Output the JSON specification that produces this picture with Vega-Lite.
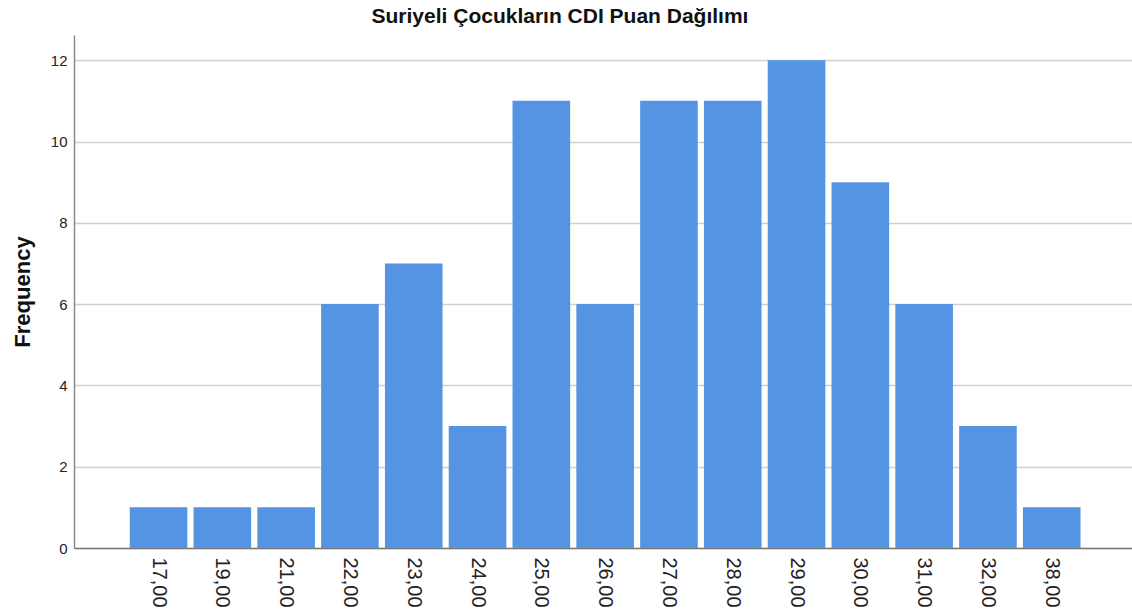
{
  "$schema": "https://vega.github.io/schema/vega-lite/v6.json",
  "autosize": {"type": "none"},
  "width": 1058,
  "height": 513,
  "padding": {"left": 74, "top": 35, "right": 0, "bottom": 68},
  "background": "white",
  "view": {"stroke": null},
  "title": {
    "text": "Suriyeli Çocukların CDI Puan Dağılımı",
    "font": "Liberation Sans",
    "fontSize": 21,
    "fontWeight": "bold",
    "color": "#111111",
    "anchor": "middle",
    "dx": -43,
    "offset": 8
  },
  "data": {
    "values": [
      {"score": "17,00", "freq": 1},
      {"score": "19,00", "freq": 1},
      {"score": "21,00", "freq": 1},
      {"score": "22,00", "freq": 6},
      {"score": "23,00", "freq": 7},
      {"score": "24,00", "freq": 3},
      {"score": "25,00", "freq": 11},
      {"score": "26,00", "freq": 6},
      {"score": "27,00", "freq": 11},
      {"score": "28,00", "freq": 11},
      {"score": "29,00", "freq": 12},
      {"score": "30,00", "freq": 9},
      {"score": "31,00", "freq": 6},
      {"score": "32,00", "freq": 3},
      {"score": "38,00", "freq": 1}
    ]
  },
  "mark": {"type": "bar", "color": "#5594e3"},
  "encoding": {
    "x": {
      "field": "score",
      "type": "ordinal",
      "sort": null,
      "scale": {"paddingInner": 0.097, "paddingOuter": 0.84, "align": 0.52},
      "axis": {
        "title": null,
        "labelAngle": 90,
        "labelAlign": "left",
        "labelBaseline": "middle",
        "labelFont": "Liberation Sans",
        "labelFontSize": 20,
        "labelColor": "#222222",
        "labelPadding": 9,
        "ticks": false,
        "grid": false,
        "domainColor": "#7a7a7a",
        "domainWidth": 1.5
      }
    },
    "y": {
      "field": "freq",
      "type": "quantitative",
      "scale": {"domain": [0, 12.62], "nice": false},
      "axis": {
        "values": [0, 2, 4, 6, 8, 10, 12],
        "title": "Frequency",
        "titleFont": "Liberation Sans",
        "titleFontSize": 22,
        "titleFontWeight": "bold",
        "titleColor": "#111111",
        "titlePadding": 16,
        "labelFont": "Liberation Sans",
        "labelFontSize": 15,
        "labelColor": "#222222",
        "labelPadding": 7,
        "ticks": false,
        "grid": true,
        "gridColor": "#d0d0d0",
        "gridWidth": 1.5,
        "domainColor": "#8a8a8a",
        "domainWidth": 1.5
      }
    }
  }
}
